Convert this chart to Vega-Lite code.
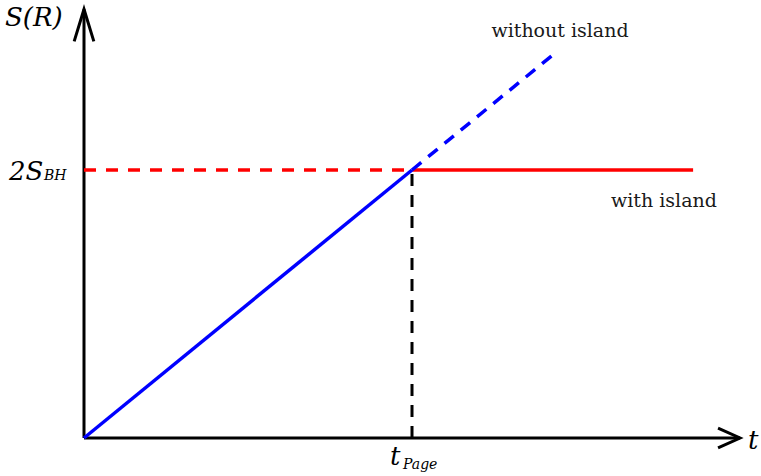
{
  "$schema": "https://vega.github.io/schema/vega-lite/v6.json",
  "width": 761,
  "height": 476,
  "padding": 0,
  "autosize": "none",
  "config": {"view": {"stroke": null}, "text": {"font": "DejaVu Serif"}},
  "datasets": {
    "axes": [
      {"g": "yaxis", "t": 0, "s": 0},
      {"g": "yaxis", "t": 0, "s": 1.6},
      {"g": "xaxis", "t": 0, "s": 0},
      {"g": "xaxis", "t": 2.0, "s": 0},
      {"g": "yarrow", "t": -0.03, "s": 1.48},
      {"g": "yarrow", "t": 0, "s": 1.6},
      {"g": "yarrow", "t": 0.03, "s": 1.48},
      {"g": "xarrow", "t": 1.933, "s": 0.037},
      {"g": "xarrow", "t": 2.0, "s": 0},
      {"g": "xarrow", "t": 1.933, "s": -0.037}
    ],
    "pageLine": [{"t": 1, "s": 0}, {"t": 1, "s": 1}],
    "redDashed": [{"t": 0, "s": 1}, {"t": 1, "s": 1}],
    "redSolid": [{"t": 1, "s": 1}, {"t": 1.857, "s": 1}],
    "blueSolid": [{"t": 0, "s": 0}, {"t": 1, "s": 1}],
    "blueDashed": [{"t": 1, "s": 1}, {"t": 1.43, "s": 1.43}],
    "labels": [
      {"k": "big", "label": "S(R)", "t": -0.2409, "s": 1.5373},
      {"k": "big", "label": "2S", "t": -0.2287, "s": 0.9627},
      {"k": "sub", "label": "BH", "t": -0.1220, "s": 0.9627},
      {"k": "big", "label": "t", "t": 0.933, "s": -0.1007},
      {"k": "sub2", "label": "Page", "t": 0.9726, "s": -0.1157},
      {"k": "big", "label": "t", "t": 2.0244, "s": -0.041}
    ],
    "notes": [
      {"label": "without island", "t": 1.4512, "s": 1.4963},
      {"label": "with island", "t": 1.768, "s": 0.862}
    ]
  },
  "encoding": {
    "x": {"field": "t", "type": "quantitative", "axis": null,
          "scale": {"domain": [-0.2561, 2.064], "nice": false, "zero": false}},
    "y": {"field": "s", "type": "quantitative", "axis": null,
          "scale": {"domain": [-0.1418, 1.6343], "nice": false, "zero": false}}
  },
  "layer": [
    {
      "data": {"name": "axes"},
      "mark": {"type": "line", "color": "black", "strokeWidth": 3, "strokeJoin": "miter", "strokeCap": "butt"},
      "encoding": {"detail": {"field": "g"}, "order": {"value": null}}
    },
    {
      "data": {"name": "pageLine"},
      "mark": {"type": "line", "color": "black", "strokeWidth": 3, "strokeDash": [12, 9]},
      "encoding": {"order": {"value": null}}
    },
    {
      "data": {"name": "redDashed"},
      "mark": {"type": "line", "color": "#ff0000", "strokeWidth": 3.5, "strokeDash": [12, 10]},
      "encoding": {"order": {"value": null}}
    },
    {
      "data": {"name": "redSolid"},
      "mark": {"type": "line", "color": "#ff0000", "strokeWidth": 3.5},
      "encoding": {"order": {"value": null}}
    },
    {
      "data": {"name": "blueSolid"},
      "mark": {"type": "line", "color": "#0000ff", "strokeWidth": 3.5},
      "encoding": {"order": {"value": null}}
    },
    {
      "data": {"name": "blueDashed"},
      "mark": {"type": "line", "color": "#0000ff", "strokeWidth": 3.5, "strokeDash": [12, 9]},
      "encoding": {"order": {"value": null}}
    },
    {
      "data": {"name": "labels"},
      "transform": [{"filter": "datum.k == 'big'"}],
      "mark": {"type": "text", "fontStyle": "italic", "fontSize": 26, "align": "left", "baseline": "alphabetic", "color": "black"},
      "encoding": {"text": {"field": "label"}}
    },
    {
      "data": {"name": "labels"},
      "transform": [{"filter": "datum.k == 'sub'"}],
      "mark": {"type": "text", "fontStyle": "italic", "fontSize": 14, "align": "left", "baseline": "alphabetic", "color": "black"},
      "encoding": {"text": {"field": "label"}}
    },
    {
      "data": {"name": "labels"},
      "transform": [{"filter": "datum.k == 'sub2'"}],
      "mark": {"type": "text", "fontStyle": "italic", "fontSize": 14, "align": "left", "baseline": "alphabetic", "color": "black"},
      "encoding": {"text": {"field": "label"}}
    },
    {
      "data": {"name": "notes"},
      "mark": {"type": "text", "fontSize": 19, "align": "center", "baseline": "alphabetic", "color": "#1a1a1a"},
      "encoding": {"text": {"field": "label"}}
    }
  ]
}
